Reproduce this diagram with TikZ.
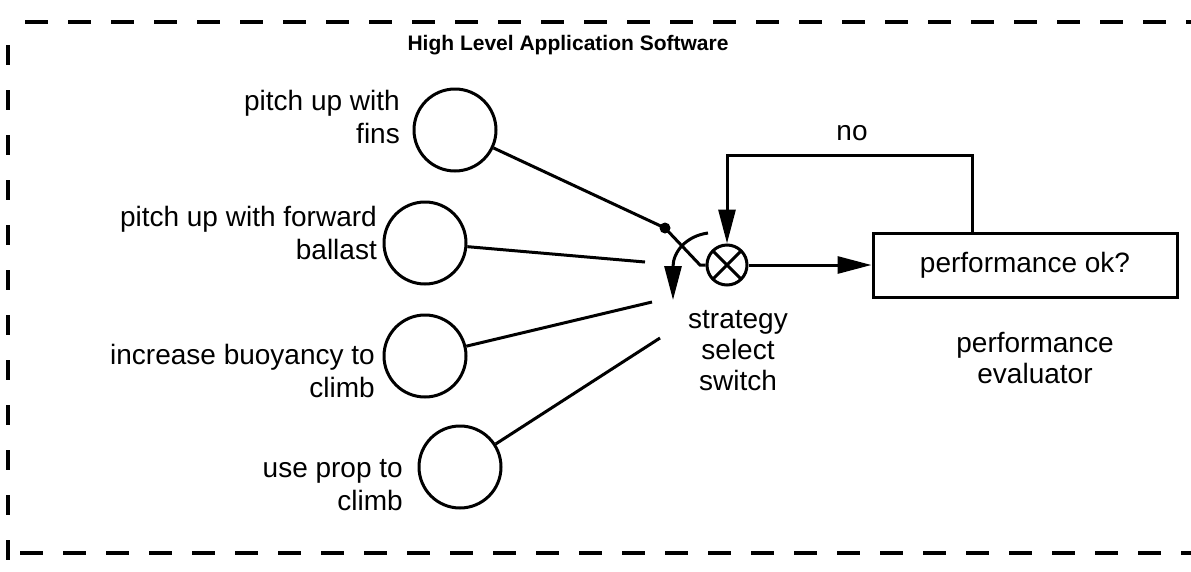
\documentclass[tikz,border=0pt]{standalone}
\usepackage{fontspec}
\setmainfont{Liberation Sans}
\usetikzlibrary{arrows.meta}
\begin{document}
\begin{tikzpicture}[x=1pt,y=-1pt,
  ln/.style={line width=3pt},
  blob/.style={circle,draw,line width=3pt,minimum size=82pt,inner sep=0pt},
  lbl/.style={font=\fontsize{28}{33}\selectfont,align=right,anchor=east,inner sep=0pt},
  clbl/.style={font=\fontsize{28}{31}\selectfont,align=center,inner sep=0pt},
  tip/.style={-{Triangle[length=34pt,width=17pt]}},
  border/.style={line width=4pt,dash pattern=on 23pt off 20pt}]
\useasboundingbox (0,0) rectangle (1191,571);
% border
\draw[border] (25,22) -- (1191,22);
\draw[border,dash pattern=on 20pt off 25pt] (8,45) -- (8,560);
\draw[border] (20,553) -- (1191,553);
% title
\node[font=\fontsize{21}{24}\selectfont\bfseries] (title) at (568,45) {High Level Application Software};
% strategy circles
\node[blob] (c1) at (455,130) {};
\node[blob] (c2) at (425,243) {};
\node[blob] (c3) at (425,356) {};
\node[blob] (c4) at (460,467) {};
\node[lbl] (l1) at (400,117) {pitch up with\\fins};
\node[lbl] (l2) at (377,233) {pitch up with forward\\ballast};
\node[lbl] (l3) at (375,371) {increase buoyancy to\\climb};
\node[lbl] (l4) at (403,485) {use prop to\\climb};
% switch
\node[circle,draw,line width=3pt,minimum size=40pt,inner sep=0pt,
  path picture={\draw[line width=3pt] (path picture bounding box.south west) -- (path picture bounding box.north east)
     (path picture bounding box.north west) -- (path picture bounding box.south east);}] (sw) at (727,265) {};
\fill (665,228) circle (5.5pt) coordinate (dot);
\coordinate (bend) at (700,265);
\coordinate (e2) at (645,262);
\coordinate (e3) at (652,302);
\coordinate (e4) at (660,338);
\draw[ln] (c1) -- (dot) -- (bend) -- (sw.west);
\draw[ln] (c2) -- (e2);
\draw[ln] (c3) -- (e3);
\draw[ln] (c4) -- (e4);
\coordinate (as) at (708,233);
\coordinate (ae) at (673,300);
\draw[ln,tip] (as) .. controls (686,236) and (673,252) .. (ae);
\node[clbl] (sl) at (738,351) {strategy\\select\\switch};
% evaluator
\node[draw,line width=3pt,minimum width=304pt,minimum height=64pt,inner sep=0pt,
  font=\fontsize{28}{33}\selectfont] (box) at (1025,265) {performance ok?};
\draw[ln,tip] (sw.east) -- (box.west);
\coordinate (fb1) at (972,155);
\coordinate (fb2) at (727,155);
\draw[ln,tip] (box.north -| fb1) -- (fb1) -- (fb2) -- (sw.north);
\node[clbl] (no) at (852,133) {no};
\node[clbl] (ev) at (1035,358) {performance\\evaluator};
\end{tikzpicture}
\end{document}
